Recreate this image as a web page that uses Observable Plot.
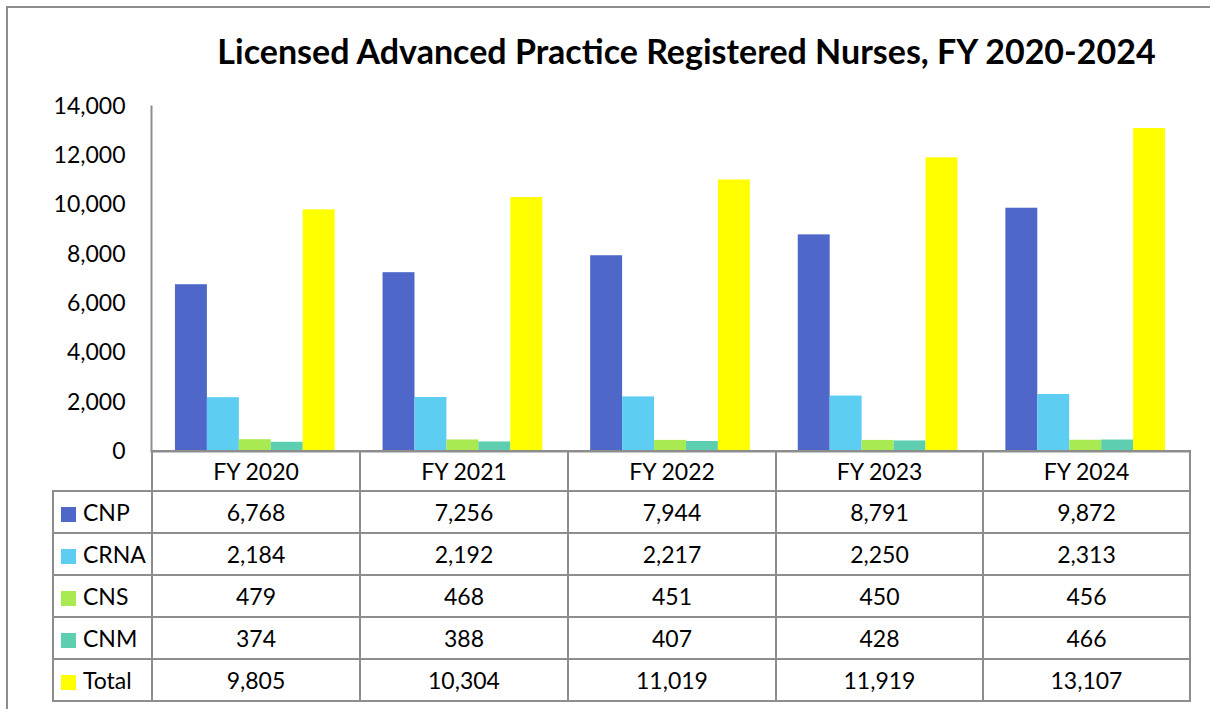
<!DOCTYPE html>
<html><head><meta charset="utf-8">
<script src="https://cdn.jsdelivr.net/npm/d3@7"></script>
<script src="https://cdn.jsdelivr.net/npm/@observablehq/plot@0.6"></script>
<style>
body{margin:0;background:#fff;font-family:Lato,"Noto Sans",sans-serif;color:#000;}
#wrap{position:relative;width:1210px;height:709px;overflow:hidden;background:#fff;}
#border{position:absolute;left:6px;top:6px;width:1400px;height:900px;border:2px solid #8d8d8d;box-sizing:border-box;}
#title{position:absolute;left:0;top:30px;width:1373px;text-align:center;font-weight:700;font-size:34px;line-height:42px;white-space:nowrap;}
#chart{position:absolute;left:0;top:0;}
#tbl{position:absolute;left:52px;top:450px;border-collapse:collapse;font-size:23px;table-layout:fixed;}
#tbl td{border:2px solid #8d8d8d;text-align:center;padding:0;white-space:nowrap;}
#tbl tr.hdr td{height:38px;}
#tbl tr.row td{height:40px;}
#tbl td.lab{text-align:left;padding-left:7px;}
#tbl td.blank{border-left:none;border-top:none;}
.key{display:inline-block;width:15px;height:15px;margin-right:7px;vertical-align:-1px;}
</style>
</head><body>
<div id="wrap">
  <div id="border"></div>
  <div id="title"></div>
  <div id="chart"></div>
  <table id="tbl"></table>
</div>
<script>
const title = "Licensed Advanced Practice Registered Nurses, FY 2020-2024";
const years = ["FY 2020", "FY 2021", "FY 2022", "FY 2023", "FY 2024"];
const series = ["CNP", "CRNA", "CNS", "CNM", "Total"];
const CNP = [6768, 7256, 7944, 8791, 9872];
const CRNA = [2184, 2192, 2217, 2250, 2313];
const CNS = [479, 468, 451, 450, 456];
const CNM = [374, 388, 407, 428, 466];
const Total = [9805, 10304, 11019, 11919, 13107];
const yTicks = [0, 2000, 4000, 6000, 8000, 10000, 12000, 14000];
const colors = ["#4F67C9", "#5DCDF2", "#A9EA52", "#5DCFB0", "#FFFF00"];

const seriesValues = [CNP, CRNA, CNS, CNM, Total];
const fmt = d3.format(",");
const data = years.flatMap((yr, i) => series.map((s, j) => ({year: yr, series: s, value: seriesValues[j][i]})));

document.getElementById("title").textContent = title;

const chart = Plot.plot({
  width: 1210,
  height: 460,
  marginTop: 106,
  marginBottom: 9,
  marginLeft: 151,
  marginRight: 21,
  style: {fontFamily: "Lato, 'Noto Sans', sans-serif", fontSize: "23px", color: "#000", background: "transparent", overflow: "visible"},
  fx: {domain: years, padding: 0, round: false, axis: null, label: null},
  x: {domain: series, paddingInner: 0, paddingOuter: 0.75, round: false, axis: null},
  y: {domain: [0, 14000], axis: null},
  color: {domain: series, range: colors},
  marks: [
    Plot.barY(data, {fx: "year", x: "series", y: "value", fill: "series"}),
    Plot.axisY({ticks: yTicks, tickSize: 0, tickPadding: 26, tickFormat: fmt, label: null, fill: "#000"}),
    Plot.frame({anchor: "left", facetAnchor: "left", stroke: "#8d8d8d", strokeWidth: 2}),
    Plot.ruleY([0], {stroke: "#8d8d8d", strokeWidth: 2})
  ]
});
document.getElementById("chart").appendChild(chart);

// data table
const tbl = d3.select("#tbl");
const colW = [99, 208, 208, 208, 207, 207];
const cg = tbl.append("colgroup");
colW.forEach(w => cg.append("col").style("width", w + "px"));
const hdr = tbl.append("tr").attr("class", "hdr");
hdr.append("td").attr("class", "blank");
years.forEach(yr => hdr.append("td").text(yr));
series.forEach((s, j) => {
  const tr = tbl.append("tr").attr("class", "row");
  const lab = tr.append("td").attr("class", "lab");
  lab.append("span").attr("class", "key").style("background", colors[j]);
  lab.append("span").text(s);
  seriesValues[j].forEach(v => tr.append("td").text(fmt(v)));
});
</script>
</body></html>
